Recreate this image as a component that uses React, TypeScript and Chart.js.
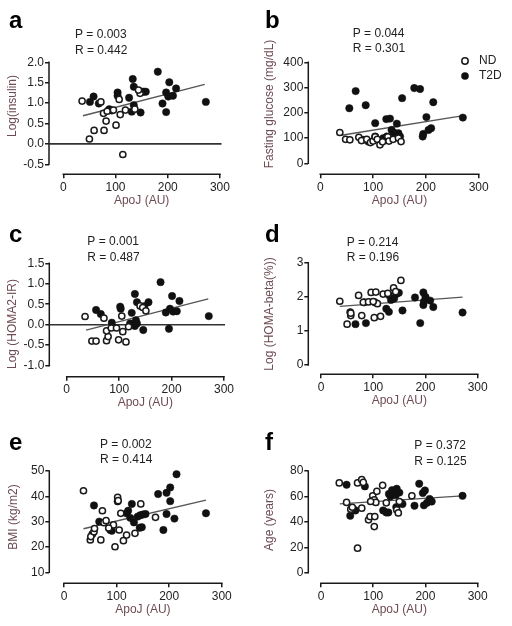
import React, { useEffect, useRef } from "react";
import { Chart, registerables } from "chart.js";

Chart.register(...registerables);

type Pt = [number, number];

// ---------- shared ----------
const xTicks = [0, 100, 200, 300];
const xTitle = "ApoJ (AU)";
const seriesNames = ["ND", "T2D"];

// ---------- a : Log(insulin) ----------
const insulinND: Pt[] = [
  [36, 1.05], [50, 0.12], [59, 0.33], [72, 1.03], [78, 0.33], [82, 0.56], [77, 0.75], [84, 0.8],
  [96, 0.83], [101, 0.46], [109, 0.72], [107, 1.09], [119, 0.83], [114, -0.26], [137, 0.85],
  [147, 1.24], [144, 1.32],
];
const insulinT2D: Pt[] = [
  [51, 1.03], [58, 1.16], [68, 0.99], [88, 0.85], [93, 0.82], [104, 1.26], [104, 1.18], [126, 1.13],
  [133, 1.59], [135, 1.4], [135, 0.95], [131, 0.79], [148, 0.77], [150, 1.28], [154, 1.28], [158, 1.28],
  [181, 1.77], [190, 0.99], [197, 0.78], [203, 1.51], [197, 1.26], [201, 1.16], [210, 1.18], [216, 1.36],
  [273, 1.03],
];
const insulinFit: Pt[] = [[37.7, 0.69], [271, 1.46]];
const insulinTicks = [-0.5, 0, 0.5, 1.0, 1.5, 2.0];

// ---------- b : Fasting glucose ----------
const glucoseND: Pt[] = [
  [37, 122], [48, 95], [56, 93], [73, 103], [78, 90], [88, 95], [95, 82], [100, 88], [104, 105],
  [108, 95], [113, 73], [118, 85], [128, 105], [130, 88], [138, 95], [148, 100], [153, 86],
];
const glucoseT2D: Pt[] = [
  [55, 218], [67, 286], [86, 230], [155, 258], [178, 298], [189, 294], [214, 242], [270, 181], [201, 183],
  [104, 159], [125, 175], [132, 177], [145, 157], [135, 132], [139, 122], [210, 139], [205, 132],
  [195, 116], [194, 106], [81, 93], [91, 86], [104, 106], [119, 99], [126, 106], [148, 119], [151, 106],
  [142, 112],
];
const glucoseFit: Pt[] = [[40, 111], [268, 188]];
const glucoseTicks = [0, 100, 200, 300, 400];

// ---------- c : Log(HOMA2-IR) ----------
const homaIrND: Pt[] = [
  [35, 0.2], [48, -0.4], [56, -0.4], [71, 0.16], [76, -0.39], [79, -0.29], [76, -0.15], [85, -0.08],
  [99, -0.37], [113, -0.42], [107, -0.17], [105, 0.21], [118, -0.05], [140, 0.46], [145, 0.42],
  [151, 0.34], [95, -0.08],
];
const homaIrT2D: Pt[] = [
  [56, 0.36], [65, 0.26], [86, 0.05], [102, 0.44], [103, 0.39], [124, 0.29], [130, 0.75], [134, 0.55],
  [132, 0.11], [134, 0.03], [146, -0.13], [156, 0.55], [179, 1.04], [201, 0.7], [215, 0.58], [189, 0.3],
  [197, 0.39], [203, 0.32], [210, 0.33], [195, -0.1], [271, 0.21], [130, -0.03], [121, 0.03], [148, 0.45],
];
const homaIrFit: Pt[] = [[37, -0.13], [270, 0.63]];
const homaIrTicks = [-1.0, -0.5, 0, 0.5, 1.0, 1.5];

// ---------- d : Log(HOMA-beta(%)) ----------
const homaBetaND: Pt[] = [
  [36, 1.87], [50, 1.2], [57, 1.45], [57, 1.52], [72, 2.04], [78, 1.45], [81, 1.84], [91, 1.85],
  [96, 2.13], [105, 2.14], [102, 1.39], [114, 1.43], [119, 2.08], [128, 2.1], [139, 2.26], [143, 2.15],
  [153, 2.48], [108, 1.8], [100, 1.86],
];
const homaBetaT2D: Pt[] = [
  [56, 1.55], [66, 1.2], [86, 1.23], [83, 1.84], [103, 1.84], [125, 1.65], [130, 1.56], [134, 1.91],
  [145, 2.09], [149, 2.12], [140, 1.95], [156, 1.6], [180, 1.98], [196, 2.13], [200, 2.0], [197, 1.86],
  [196, 1.76], [209, 1.89], [215, 1.7], [190, 1.23], [271, 1.54], [130, 2.05],
];
const homaBetaFit: Pt[] = [[36, 1.72], [271, 1.99]];
const homaBetaTicks = [0, 1, 2, 3];

// ---------- e : BMI ----------
const bmiND: Pt[] = [
  [37, 42.2], [50, 22.8], [51, 24.1], [57, 26.0], [58, 27.3], [70, 22.8], [73, 34.3], [76, 29.6],
  [80, 30.4], [94, 28.7], [97, 20.1], [102, 39.6], [103, 38.3], [105, 26.7], [108, 33.3], [113, 22.5],
  [119, 24.7], [135, 25.4], [146, 37.0], [174, 31.7], [85, 27.5],
];
const bmiT2D: Pt[] = [
  [54, 25.1], [57, 36.4], [67, 30.0], [88, 26.7], [91, 26.4], [102, 38.0], [119, 33.3], [122, 34.3],
  [129, 37.0], [133, 29.7], [140, 32.0], [145, 32.5], [150, 32.8], [155, 33.0], [148, 27.8], [144, 27.6],
  [179, 40.9], [195, 41.4], [202, 43.5], [214, 48.7], [202, 38.1], [195, 33.0], [210, 31.2], [189, 26.7],
  [270, 33.3], [126, 31.5],
];
const bmiFit: Pt[] = [[37, 27.2], [270, 38.5]];
const bmiTicks = [10, 20, 30, 40, 50];

// ---------- f : Age ----------
const ageND: Pt[] = [
  [35, 70.6], [49, 55.3], [57, 50.0], [60, 51.5], [70, 70.6], [78, 73.2], [81, 71.0], [78, 50.8],
  [70, 19.3], [91, 41.6], [94, 44.2], [103, 44.2], [102, 36.3], [99, 60.5], [102, 57.4], [107, 64.0],
  [105, 55.3], [118, 68.7], [95, 56.0], [145, 49.5], [148, 47.0], [174, 60.5], [125, 55.0], [150, 56.0],
];
const ageT2D: Pt[] = [
  [49, 69.2], [62, 50.0], [66, 49.0], [56, 44.8], [84, 67.9], [119, 49.0], [125, 47.4], [129, 47.4],
  [130, 62.0], [133, 60.0], [136, 65.0], [143, 61.0], [145, 66.0], [150, 63.0], [144, 51.6], [153, 55.0],
  [156, 54.0], [179, 52.7], [188, 70.0], [195, 62.7], [199, 64.7], [197, 53.0], [203, 55.0], [208, 58.0],
  [212, 56.0], [271, 60.5],
];
const ageFit: Pt[] = [[36, 54.2], [271, 60.5]];
const ageTicks = [0, 20, 40, 60, 80];

// ---------- panel specs (layout in canvas coordinates) ----------
interface Spec {
  letter: string;
  yTitle: string;
  p: string;
  r: string;
  nd: Pt[];
  t2d: Pt[];
  fit: Pt[];
  zero: boolean;
  yTicks: number[];
  decimals: number;
  left: number;
  top: number;
  height: number;
  area: { l: number; t: number; r: number; b: number };
  xMin: number;
  xMax: number;
  yMin: number;
  yMax: number;
  yTitlePos: [number, number];
  statsPos: [number, number];
  legend?: boolean;
}

const specs: Spec[] = [
  {
    letter: "a", yTitle: "Log(insulin)", p: "P = 0.003", r: "R = 0.442",
    nd: insulinND, t2d: insulinT2D, fit: insulinFit, zero: true, yTicks: insulinTicks, decimals: 1,
    left: 0, top: 0, height: 210, area: { l: 49, t: 62.3, r: 221.5, b: 174.3 },
    xMin: -27.4, xMax: 303, yMin: -0.745, yMax: 2.0, yTitlePos: [13, 106], statsPos: [75, 35],
  },
  {
    letter: "b", yTitle: "Fasting glucose (mg/dL)", p: "P = 0.044", r: "R = 0.301",
    nd: glucoseND, t2d: glucoseT2D, fit: glucoseFit, zero: false, yTicks: glucoseTicks, decimals: 0,
    left: 256, top: 0, height: 210, area: { l: 52.3, t: 62.3, r: 224, b: 174.3 },
    xMin: -22.7, xMax: 302.5, yMin: -43.6, yMax: 400, yTitlePos: [13.5, 104], statsPos: [96.7, 33.3],
    legend: true,
  },
  {
    letter: "c", yTitle: "Log (HOMA2-IR)", p: "P = 0.001", r: "R = 0.487",
    nd: homaIrND, t2d: homaIrT2D, fit: homaIrFit, zero: true, yTicks: homaIrTicks, decimals: 1,
    left: 0, top: 210, height: 210, area: { l: 49.3, t: 53.3, r: 225, b: 166.7 },
    xMin: -33.2, xMax: 301.9, yMin: -1.27, yMax: 1.5, yTitlePos: [13, 114], statsPos: [87.3, 31.7],
  },
  {
    letter: "d", yTitle: "Log (HOMA-beta(%))", p: "P = 0.214", r: "R = 0.196",
    nd: homaBetaND, t2d: homaBetaT2D, fit: homaBetaFit, zero: false, yTicks: homaBetaTicks, decimals: 0,
    left: 256, top: 210, height: 210, area: { l: 52.3, t: 52.7, r: 223, b: 164.3 },
    xMin: -24.3, xMax: 302.5, yMin: -0.27, yMax: 3, yTitlePos: [13.5, 104], statsPos: [90.7, 32.3],
  },
  {
    letter: "e", yTitle: "BMI (kg/m2)", p: "P = 0.002", r: "R = 0.414",
    nd: bmiND, t2d: bmiT2D, fit: bmiFit, zero: false, yTicks: bmiTicks, decimals: 0,
    left: 0, top: 420, height: 206, area: { l: 49.3, t: 51, r: 223, b: 163.3 },
    xMin: -28, xMax: 302.4, yMin: 5.66, yMax: 50, yTitlePos: [14, 97], statsPos: [100, 24.3],
  },
  {
    letter: "f", yTitle: "Age (years)", p: "P = 0.372", r: "R = 0.125",
    nd: ageND, t2d: ageT2D, fit: ageFit, zero: false, yTicks: ageTicks, decimals: 0,
    left: 256, top: 420, height: 206, area: { l: 52.3, t: 51, r: 223, b: 163.3 },
    xMin: -24.3, xMax: 302.5, yMin: -8.3, yMax: 80, yTitlePos: [13.5, 100], statsPos: [158.3, 26],
  },
];

const FONT = '"Liberation Sans", Arial, Helvetica, sans-serif';
const INK = "#1a1a1a";
const TITLE_COLOR = "#6d4c52";
const W = 256;

function toXY(pts: Pt[]) {
  return pts.map(([x, y]) => ({ x, y }));
}

function Panel({ s }: { s: Spec }) {
  const ref = useRef<HTMLCanvasElement | null>(null);

  useEffect(() => {
    const canvas = ref.current;
    if (!canvas) return;
    const H = s.height;
    const a = s.area;

    const decor = {
      id: "decor",
      beforeDatasetsDraw(chart: any) {
        const ctx = chart.ctx;
        const xs = chart.scales.x;
        const ys = chart.scales.y;
        const ca = chart.chartArea;
        ctx.save();
        ctx.strokeStyle = INK;
        ctx.lineWidth = 1.5;
        ctx.beginPath();
        const yTop = ys.getPixelForValue(s.yTicks[s.yTicks.length - 1]);
        const yBot = ys.getPixelForValue(s.yTicks[0]);
        ctx.moveTo(ca.left, yTop - 0.75);
        ctx.lineTo(ca.left, yBot + 0.75);
        const x0 = xs.getPixelForValue(xTicks[0]);
        const x1 = xs.getPixelForValue(xTicks[xTicks.length - 1]);
        ctx.moveTo(x0 - 0.75, ca.bottom);
        ctx.lineTo(x1 + 0.75, ca.bottom);
        ctx.stroke();
        ctx.restore();
      },
      afterDraw(chart: any) {
        const ctx = chart.ctx;
        const xs = chart.scales.x;
        const ca = chart.chartArea;
        ctx.save();
        // panel letter
        ctx.fillStyle = "#000";
        ctx.font = `bold 24px ${FONT}`;
        ctx.textAlign = "left";
        ctx.textBaseline = "alphabetic";
        ctx.fillText(s.letter, 9, s.letter === "a" || s.letter === "b" ? 28 : s.letter === "e" || s.letter === "f" ? 29.5 : 32);
        // stats
        ctx.fillStyle = "#222";
        ctx.font = `12px ${FONT}`;
        ctx.textBaseline = "middle";
        ctx.fillText(s.p, s.statsPos[0], s.statsPos[1]);
        ctx.fillText(s.r, s.statsPos[0], s.statsPos[1] + 15.5);
        // x title
        ctx.fillStyle = TITLE_COLOR;
        ctx.textAlign = "center";
        const xc = (xs.getPixelForValue(xTicks[0]) + xs.getPixelForValue(xTicks[xTicks.length - 1])) / 2;
        ctx.fillText(xTitle, xc, ca.bottom + 26);
        // y title
        ctx.save();
        ctx.translate(s.yTitlePos[0], s.yTitlePos[1]);
        ctx.rotate(-Math.PI / 2);
        ctx.fillText(s.yTitle, 0, 0);
        ctx.restore();
        // legend
        if (s.legend) {
          const lx = 209;
          const rows = [61, 76];
          rows.forEach((ly, i) => {
            ctx.beginPath();
            ctx.arc(lx, ly, i === 0 ? 3.2 : 3.8, 0, Math.PI * 2);
            if (i === 0) {
              ctx.fillStyle = "#fff";
              ctx.fill();
              ctx.lineWidth = 1.5;
              ctx.strokeStyle = INK;
              ctx.stroke();
            } else {
              ctx.fillStyle = "#111";
              ctx.fill();
            }
            ctx.fillStyle = "#222";
            ctx.font = `12px ${FONT}`;
            ctx.textAlign = "left";
            ctx.fillText(seriesNames[i], 223, ly);
          });
        }
        ctx.restore();
      },
    };

    const datasets: any[] = [
      {
        label: seriesNames[0],
        data: toXY(s.nd),
        pointRadius: 3.1,
        pointBackgroundColor: "#fff",
        pointBorderColor: INK,
        pointBorderWidth: 1.5,
        showLine: false,
        clip: false,
      },
      {
        label: seriesNames[1],
        data: toXY(s.t2d),
        pointRadius: 3.7,
        pointBackgroundColor: "#111",
        pointBorderColor: "#111",
        pointBorderWidth: 0.5,
        showLine: false,
        clip: false,
      },
      {
        label: "fit",
        data: toXY(s.fit),
        showLine: true,
        pointRadius: 0,
        borderColor: "#555",
        borderWidth: 1.3,
        clip: false,
      },
    ];
    if (s.zero) {
      datasets.push({
        label: "zero",
        data: [{ x: s.xMin, y: 0 }, { x: s.xMax, y: 0 }],
        showLine: true,
        pointRadius: 0,
        borderColor: "#333",
        borderWidth: 1.6,
        clip: false,
      });
    }

    const tickFont = { family: FONT, size: 12 };

    const chart = new Chart(canvas, {
      type: "scatter",
      data: { datasets },
      plugins: [decor],
      options: {
        responsive: false,
        animation: false,
        devicePixelRatio: 1,
        events: [],
        layout: { padding: { left: 0, top: a.t, right: W - a.r, bottom: 0 } },
        plugins: { legend: { display: false }, tooltip: { enabled: false }, title: { display: false } },
        scales: {
          x: {
            type: "linear",
            min: s.xMin,
            max: s.xMax,
            afterBuildTicks: (sc: any) => {
              sc.ticks = xTicks.map((v) => ({ value: v }));
            },
            afterFit: (sc: any) => {
              sc.height = H - a.b;
            },
            ticks: {
              font: tickFont,
              color: "#222",
              padding: 2,
              maxRotation: 0,
              autoSkip: false,
              callback: (v: any) => String(v),
            },
            grid: { display: true, drawOnChartArea: false, drawTicks: true, tickLength: 4, color: INK, lineWidth: 1.5 },
            border: { display: false },
          },
          y: {
            type: "linear",
            min: s.yMin,
            max: s.yMax,
            afterBuildTicks: (sc: any) => {
              sc.ticks = s.yTicks.map((v) => ({ value: v }));
            },
            afterFit: (sc: any) => {
              sc.width = a.l;
            },
            ticks: {
              font: tickFont,
              color: "#222",
              padding: 1,
              autoSkip: false,
              callback: (v: any) => (s.decimals ? Number(v).toFixed(s.decimals) : String(v)),
            },
            grid: { display: true, drawOnChartArea: false, drawTicks: true, tickLength: 4, color: INK, lineWidth: 1.5 },
            border: { display: false },
          },
        },
      } as any,
    });
    return () => chart.destroy();
  }, [s]);

  return (
    <canvas
      ref={ref}
      width={W}
      height={s.height}
      style={{ position: "absolute", left: s.left, top: s.top, width: W, height: s.height }}
    />
  );
}

export default function App() {
  return (
    <div style={{ position: "absolute", left: 0, top: 0, width: 512, height: 626, background: "#fff", overflow: "hidden" }}>
      {specs.map((s) => (
        <Panel key={s.letter} s={s} />
      ))}
    </div>
  );
}
